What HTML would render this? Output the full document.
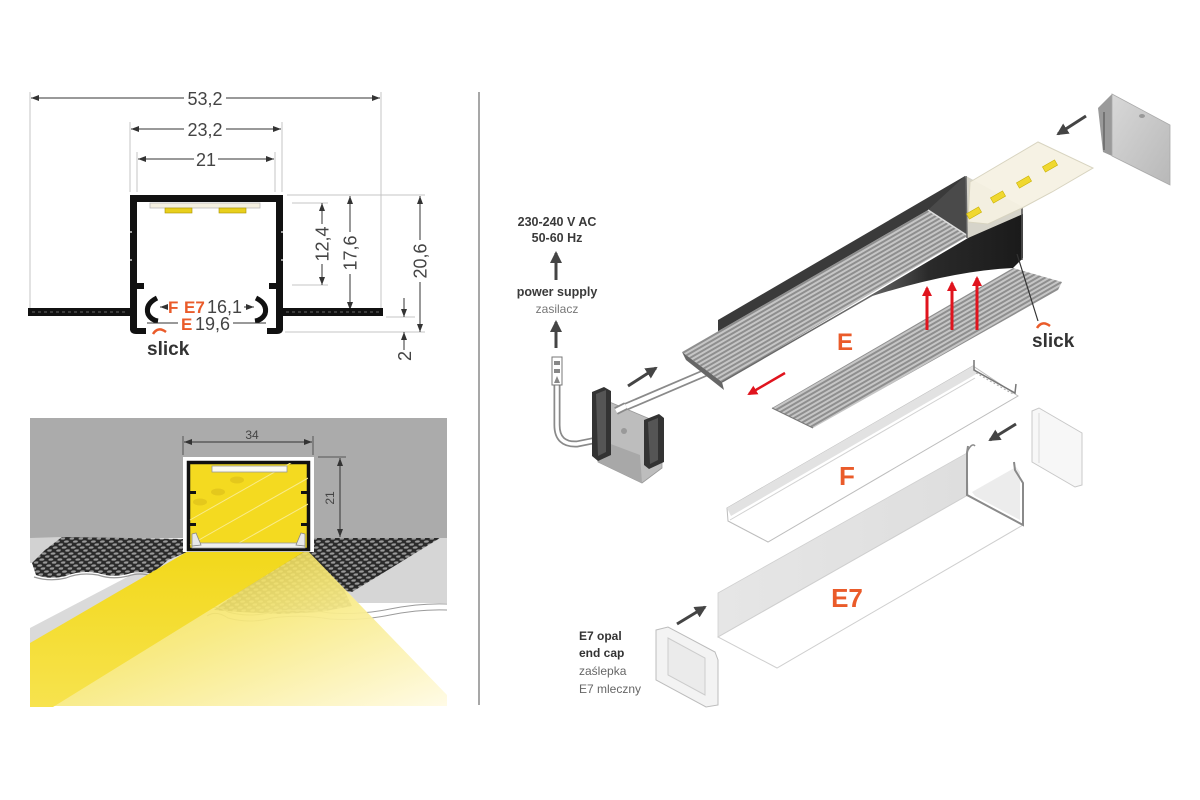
<!DOCTYPE html>
<html><head><meta charset="utf-8">
<style>
html,body{margin:0;padding:0;background:#fff;}
svg{display:block;}
text{font-family:"Liberation Sans",sans-serif;}
</style></head><body>
<svg width="1200" height="800" viewBox="0 0 1200 800" xmlns="http://www.w3.org/2000/svg">
<defs>
<marker id="ad" markerUnits="userSpaceOnUse" viewBox="0 0 8 6" refX="8" refY="3" markerWidth="8" markerHeight="6" orient="auto-start-reverse"><path d="M0,0L8,3L0,6z" fill="#333"/></marker>
<marker id="ag" markerUnits="userSpaceOnUse" viewBox="0 0 12 12" refX="10" refY="6" markerWidth="12" markerHeight="12" orient="auto"><path d="M0,0L12,6L0,12z" fill="#444"/></marker>
<marker id="ar" markerUnits="userSpaceOnUse" viewBox="0 0 10 10" refX="8" refY="5" markerWidth="10" markerHeight="10" orient="auto"><path d="M0,0L10,5L0,10z" fill="#e0141e"/></marker>
<pattern id="rib" width="6" height="4" patternUnits="userSpaceOnUse" patternTransform="rotate(-30)">
<rect width="6" height="4" fill="#8e8e8e"/><rect width="6" height="2" fill="#c6c6c6"/></pattern>
<pattern id="mesh" width="9" height="6" patternUnits="userSpaceOnUse" patternTransform="skewX(-20)">
<rect width="9" height="6" fill="#2a2a2a"/>
<ellipse cx="2.5" cy="1.5" rx="2.4" ry="1.2" fill="#9a9a9a"/>
<ellipse cx="7" cy="4.5" rx="2.4" ry="1.2" fill="#9a9a9a"/>
</pattern>
<linearGradient id="beamR" x1="0" y1="0" x2="1" y2="1">
<stop offset="0" stop-color="#efd42a" stop-opacity="0.75"/>
<stop offset="0.45" stop-color="#f7e877" stop-opacity="0.92"/>
<stop offset="1" stop-color="#fffbe6"/>
</linearGradient>
<linearGradient id="beamL" x1="0" y1="0" x2="0" y2="1">
<stop offset="0" stop-color="#f2d81a"/>
<stop offset="1" stop-color="#f7e34e"/>
</linearGradient>
<linearGradient id="wedge" x1="0" y1="0" x2="1" y2="0">
<stop offset="0" stop-color="#6a6a6a"/>
<stop offset="0.4" stop-color="#2a2a2a"/>
<stop offset="1" stop-color="#1a1a1a"/>
</linearGradient>
<linearGradient id="capg" x1="0" y1="0" x2="1" y2="1">
<stop offset="0" stop-color="#d8d8d8"/>
<stop offset="1" stop-color="#b8b8b8"/>
</linearGradient>
<linearGradient id="e7face" x1="0" y1="0" x2="1" y2="0">
<stop offset="0" stop-color="#e6e6e6"/>
<stop offset="1" stop-color="#dedede"/>
</linearGradient>
<clipPath id="inner"><rect x="189" y="463" width="119" height="85"/></clipPath>
</defs>
<rect width="1200" height="800" fill="#fff"/>

<!-- divider -->
<line x1="479" y1="92" x2="479" y2="705" stroke="#8a8a8a" stroke-width="1.5"/>

<!-- ================= TOP LEFT CROSS SECTION ================= -->
<g stroke="#c4c4c4" stroke-width="1">
<line x1="30" y1="92" x2="30" y2="310"/>
<line x1="381" y1="92" x2="381" y2="310"/>
<line x1="130" y1="122" x2="130" y2="192"/>
<line x1="282" y1="122" x2="282" y2="192"/>
<line x1="137" y1="152" x2="137" y2="192"/>
<line x1="275" y1="152" x2="275" y2="192"/>
<line x1="287" y1="195" x2="425" y2="195"/>
<line x1="292" y1="203" x2="328" y2="203"/>
<line x1="292" y1="285" x2="328" y2="285"/>
<line x1="285" y1="332" x2="425" y2="332"/>
<line x1="386" y1="317" x2="415" y2="317"/>
</g>
<g stroke="#333" stroke-width="1" marker-start="url(#ad)" marker-end="url(#ad)">
<line x1="31" y1="98" x2="380" y2="98"/>
<line x1="131" y1="129" x2="281" y2="129"/>
<line x1="138" y1="159" x2="274" y2="159"/>
<line x1="322" y1="203" x2="322" y2="285"/>
<line x1="350" y1="196" x2="350" y2="310"/>
<line x1="420" y1="196" x2="420" y2="332"/>
</g>
<g stroke="#333" stroke-width="1" marker-end="url(#ad)">
<line x1="404" y1="298" x2="404" y2="317"/>
<line x1="404" y1="350" x2="404" y2="332"/>
</g>
<g fill="#fff">
<rect x="184" y="88" width="42" height="20"/>
<rect x="184" y="119" width="42" height="20"/>
<rect x="194" y="149" width="24" height="20"/>
<rect x="314" y="224" width="16" height="40"/>
<rect x="342" y="232" width="16" height="42"/>
<rect x="412" y="240" width="16" height="42"/>
</g>
<g font-size="18" fill="#444" text-anchor="middle">
<text x="205" y="105">53,2</text>
<text x="205" y="136">23,2</text>
<text x="206" y="166">21</text>
<text transform="translate(328.5,244) rotate(-90)">12,4</text>
<text transform="translate(356.5,253) rotate(-90)">17,6</text>
<text transform="translate(426.5,261) rotate(-90)">20,6</text>
<text transform="translate(411,356) rotate(-90)">2</text>
</g>

<!-- profile -->
<g fill="#111">
<rect x="130" y="195" width="153" height="7"/>
<rect x="130" y="195" width="7" height="130"/>
<rect x="276" y="195" width="7" height="130"/>
<path d="M130,320 L130,330 Q131,334 136,334 L146,334 L146,328 L137,328 L137,320 Z"/>
<path d="M283,320 L283,330 Q282,334 277,334 L267,334 L267,328 L276,328 L276,320 Z"/>
<rect x="137" y="283" width="7" height="6"/>
<rect x="269" y="283" width="7" height="6"/>
<rect x="28" y="308" width="104" height="8"/>
<rect x="281" y="308" width="102" height="8"/>
</g>
<g stroke="#fff" stroke-width="1.2">
<line x1="130" y1="232" x2="132" y2="232"/><line x1="130" y1="260" x2="132" y2="260"/>
<line x1="281" y1="232" x2="283" y2="232"/><line x1="281" y1="260" x2="283" y2="260"/>
</g>
<g stroke="#666" stroke-width="1" stroke-dasharray="3 3">
<line x1="32" y1="312" x2="128" y2="312"/>
<line x1="286" y1="312" x2="380" y2="312"/>
</g>
<path d="M157,298 Q145,304 148,314 Q151,320 158,321" stroke="#111" stroke-width="5" fill="none"/>
<path d="M256,298 Q268,304 265,314 Q262,320 255,321" stroke="#111" stroke-width="5" fill="none"/>
<!-- LED strip -->
<rect x="150" y="203" width="110" height="5" fill="#f4f0e0" stroke="#bbb" stroke-width="0.8"/>
<rect x="165" y="208" width="27" height="5" fill="#e8cf1c" stroke="#a89200" stroke-width="0.6"/>
<rect x="219" y="208" width="27" height="5" fill="#e8cf1c" stroke="#a89200" stroke-width="0.6"/>

<!-- labels under profile -->
<g stroke="#333" stroke-width="1">
<line x1="167" y1="307" x2="160" y2="307" marker-end="url(#ad)"/>
<line x1="244" y1="307" x2="254" y2="307" marker-end="url(#ad)"/>
<line x1="178" y1="323" x2="147" y2="323"/>
<line x1="233" y1="323" x2="266" y2="323"/>
</g>
<g font-size="17" font-weight="bold" fill="#ea5b2a">
<text x="168" y="313">F</text>
<text x="184" y="313">E7</text>
<text x="181" y="330">E</text>
</g>
<g font-size="18" fill="#444">
<text x="207" y="313">16,1</text>
<text x="195" y="330">19,6</text>
</g>
<path d="M153,334 Q158,326 166,332" stroke="#ea5b2a" stroke-width="2.5" fill="none"/>
<text x="147" y="355" font-size="19" font-weight="bold" fill="#333">slick</text>

<!-- ================= BOTTOM LEFT ILLUSTRATION ================= -->
<rect x="30" y="418" width="417" height="120" fill="#ababab"/>
<!-- left slab -->
<polygon points="30,538 187,538 190,550 30,645" fill="#fff"/>
<polygon points="30,628 175,552 190,550 30,645" fill="#dadada"/>
<polygon points="30,538 62,537 45,552 32,563 30,563" fill="#d2d2d2"/>
<path d="M62,537 L187,539 L187,552 L168,560 L152,574 Q140,570 128,574 Q112,578 98,573 Q80,570 66,576 Q50,580 36,575 L32,563 L45,550 Z" fill="url(#mesh)"/>
<path d="M152,576 Q140,572 128,576 Q112,580 98,575 Q80,572 66,578 Q50,582 34,577" stroke="#999" stroke-width="1.2" fill="none"/>
<!-- right slab -->
<polygon points="310,538 447,538 447,603 358,603 310,552" fill="#d6d6d6"/>
<path d="M312,538 L440,538 L352,592 L340,590 L312,552 Z" fill="url(#mesh)"/>
<path d="M292,552 L318,552 L345,592 L352,606 L320,612 L280,614 L240,612 L214,610 Z" fill="url(#mesh)"/>
<path d="M207,610 Q216,604 228,612 Q250,618 272,612 Q300,608 330,613 Q360,615 390,609 Q420,603 447,604" stroke="#9a9a9a" stroke-width="1" fill="none"/>
<path d="M207,616 Q216,610 228,618 Q250,624 272,618 Q300,614 330,619 Q360,621 390,615 Q420,609 447,610" stroke="#9a9a9a" stroke-width="1" fill="none"/>
<!-- beam -->
<polygon points="307,550 447,695 447,706 53,706" fill="url(#beamR)"/>
<polygon points="190,550 307,550 53,707 30,707 30,643" fill="url(#beamL)"/>
<!-- profile -->
<rect x="183" y="457" width="131" height="95" fill="#fff"/>
<rect x="188.5" y="462.5" width="120" height="87" fill="#f4da20" stroke="#111" stroke-width="3.5"/>
<g clip-path="url(#inner)" stroke="#f9eb8a" stroke-width="1">
<line x1="190" y1="520" x2="310" y2="452"/>
<line x1="190" y1="545" x2="310" y2="477"/>
<line x1="230" y1="548" x2="310" y2="503"/>
</g>
<ellipse cx="237" cy="480" rx="7" ry="3.5" fill="#e4c81c"/>
<ellipse cx="218" cy="492" rx="7" ry="3.5" fill="#e4c81c"/>
<ellipse cx="200" cy="502" rx="7" ry="3.5" fill="#e4c81c"/>
<rect x="212" y="466" width="75" height="6" fill="#fbfaf0" stroke="#999" stroke-width="0.8"/>
<g fill="#111">
<rect x="190" y="491" width="6" height="3"/><rect x="190" y="523" width="6" height="3"/>
<rect x="301" y="491" width="6" height="3"/><rect x="301" y="523" width="6" height="3"/>
</g>
<rect x="192" y="543" width="113" height="5" fill="#eeeeee" stroke="#999" stroke-width="0.8"/>
<polygon points="192,534 196,533 201,545 192,546" fill="#e8e8e8" stroke="#888" stroke-width="0.8"/>
<polygon points="305,534 301,533 296,545 305,546" fill="#e8e8e8" stroke="#888" stroke-width="0.8"/>
<!-- dims -->
<g stroke="#555" stroke-width="1">
<line x1="183" y1="436" x2="183" y2="455"/>
<line x1="313" y1="436" x2="313" y2="455"/>
<line x1="318" y1="457" x2="346" y2="457"/>
</g>
<g stroke="#333" stroke-width="1" marker-start="url(#ad)" marker-end="url(#ad)">
<line x1="184" y1="442" x2="312" y2="442"/>
<line x1="340" y1="458" x2="340" y2="537"/>
</g>
<g font-size="12" fill="#444" text-anchor="middle">
<text x="252" y="439">34</text>
<text transform="translate(334,498) rotate(-90)">21</text>
</g>

<!-- ================= RIGHT EXPLODED VIEW ================= -->
<!-- power texts -->
<g font-size="12.5" font-weight="bold" fill="#3a3a3a" text-anchor="middle">
<text x="557" y="226">230-240 V AC</text>
<text x="557" y="242">50-60 Hz</text>
<text x="557" y="296">power supply</text>
</g>
<text x="557" y="313" font-size="12" fill="#777" text-anchor="middle">zasilacz</text>
<g stroke="#444" stroke-width="3">
<line x1="556" y1="280" x2="556" y2="253" marker-end="url(#ag)"/>
<line x1="556" y1="348" x2="556" y2="322" marker-end="url(#ag)"/>
<line x1="628" y1="386" x2="656" y2="368" marker-end="url(#ag)"/>
<line x1="1086" y1="116" x2="1058" y2="134" marker-end="url(#ag)"/>
<line x1="1016" y1="424" x2="990" y2="440" marker-end="url(#ag)"/>
<line x1="677" y1="624" x2="705" y2="607" marker-end="url(#ag)"/>
</g>
<!-- cable and connector -->
<path d="M557,385 L557,425 Q557,445 577,444 L597,440" stroke="#8a8a8a" stroke-width="7" fill="none"/>
<path d="M557,385 L557,425 Q557,445 577,444 L597,440" stroke="#fff" stroke-width="3.5" fill="none"/>
<rect x="552" y="357" width="10" height="28" fill="#fff" stroke="#777" stroke-width="1"/>
<rect x="554" y="361" width="6" height="4" fill="#888"/>
<rect x="554" y="369" width="6" height="4" fill="#888"/>
<path d="M554,383 L557,376 L560,383 Z" fill="#888"/>
<!-- rod -->
<line x1="616" y1="411" x2="712" y2="370" stroke="#8a8a8a" stroke-width="8"/>
<line x1="616" y1="411" x2="712" y2="370" stroke="#fff" stroke-width="4.5"/>
<!-- feed piece -->
<polygon points="600,398 662,424 662,468 642,483 598,462" fill="#bdbdbd" stroke="#999" stroke-width="0.8"/>
<polygon points="600,440 640,455 642,483 598,462" fill="#a8a8a8"/>
<polygon points="592,392 604,387 611,391 611,455 598,461 592,456" fill="#333"/>
<polygon points="596,394 606,390 606,452 598,456" fill="#555"/>
<polygon points="644,420 659,414 664,418 664,462 649,469 644,465" fill="#333"/>
<polygon points="648,422 658,418 658,460 650,464" fill="#555"/>
<circle cx="624" cy="431" r="3" fill="#999"/>
<line x1="616" y1="411" x2="626" y2="406" stroke="#8a8a8a" stroke-width="8"/>
<line x1="616" y1="411" x2="626" y2="406" stroke="#fff" stroke-width="4.5"/>

<!-- E profile -->
<polygon points="718,320 965,176 968,190 718,336" fill="#3a3a3a"/>
<polygon points="928,210 965,176 968,236" fill="#4a4a4a"/>
<polygon points="682,352 928,210 968,236 722,382" fill="url(#rib)"/>
<line x1="722" y1="382" x2="968" y2="240" stroke="#6a6a6a" stroke-width="1.5"/>
<line x1="928" y1="210" x2="968" y2="236" stroke="#ddd" stroke-width="1.5"/>
<polygon points="682,352 722,382 724,390 686,360" fill="#666"/>
<!-- end face diffuser -->
<polygon points="966,176 1023,207 1023,226 967,238" fill="#d6d4ca"/>
<!-- dark wedge -->
<path d="M866,298 L968,238 L1023,214 L1023,258 L1013,268 Q950,271 866,298 Z" fill="url(#wedge)"/>
<line x1="966" y1="176" x2="967" y2="238" stroke="#666" stroke-width="1.5"/>
<line x1="1022" y1="208" x2="1022" y2="260" stroke="#555" stroke-width="1.5"/>
<!-- LED strip -->
<polygon points="970,182 1038,142 1093,168 1052,192 1022,208 988,224 968,222" fill="#f5f1e2" fill-opacity="0.92" stroke="#d8d4c0" stroke-width="1"/>
<g fill="#f0d830" stroke="#c8b000" stroke-width="0.6">
<rect x="-7" y="-3" width="14" height="6" transform="translate(1050,166) rotate(-30)"/>
<rect x="-7" y="-3" width="14" height="6" transform="translate(1024,182) rotate(-30)"/>
<rect x="-7" y="-3" width="14" height="6" transform="translate(998,197) rotate(-30)"/>
<rect x="-7" y="-3" width="14" height="6" transform="translate(974,213) rotate(-30)"/>
</g>
<!-- lower flange -->
<polygon points="772,408 1013,268 1062,282 1058,290 813,428" fill="url(#rib)"/>
<line x1="772" y1="408" x2="813" y2="428" stroke="#777" stroke-width="1"/>
<!-- slick leader -->
<line x1="1017" y1="254" x2="1038" y2="321" stroke="#333" stroke-width="1.2"/>
<path d="M1037,328 Q1042,320 1050,326" stroke="#ea5b2a" stroke-width="2.5" fill="none"/>
<text x="1032" y="347" font-size="19" font-weight="bold" fill="#333">slick</text>
<!-- red arrows -->
<g stroke="#e0141e" stroke-width="3">
<line x1="927" y1="330" x2="927" y2="288" marker-end="url(#ar)"/>
<line x1="952" y1="330" x2="952" y2="283" marker-end="url(#ar)"/>
<line x1="977" y1="330" x2="977" y2="278" marker-end="url(#ar)"/>
<line x1="785" y1="373" x2="749" y2="394" stroke-width="2.5" marker-end="url(#ar)"/>
</g>
<text x="845" y="350" font-size="24" font-weight="bold" fill="#ea5b2a" text-anchor="middle">E</text>

<!-- top cap -->
<polygon points="1098,108 1112,94 1112,156 1103,152" fill="#9a9a9a"/>
<polygon points="1112,94 1170,125 1170,185 1112,156" fill="url(#capg)" stroke="#aaa" stroke-width="0.8"/>
<line x1="1104" y1="112" x2="1104" y2="150" stroke="#666" stroke-width="1.5"/>
<ellipse cx="1142" cy="116" rx="3" ry="2" fill="#999"/>

<!-- F piece -->
<polygon points="727,508 973,366 1018,396 768,542 728,521" fill="#fff" stroke="#bdbdbd" stroke-width="1"/>
<polygon points="727,508 973,366 978,373 731,516" fill="#e2e2e2"/>
<line x1="730" y1="520" x2="975" y2="378" stroke="#d2d2d2" stroke-width="1"/>
<polyline points="974,360 974,370 1015,393 1016,384" stroke="#777" stroke-width="1.5" fill="none"/>
<line x1="976" y1="373" x2="1013" y2="394" stroke="#aaa" stroke-width="1" stroke-dasharray="2 2"/>
<text x="847" y="485" font-size="26" font-weight="bold" fill="#ea5b2a" text-anchor="middle">F</text>

<!-- F end cap (right) -->
<polygon points="1032,411 1039,408 1082,433 1082,485 1075,487 1032,462" fill="#f7f7f7" stroke="#c8c8c8" stroke-width="1"/>
<line x1="1039" y1="413" x2="1039" y2="463" stroke="#d8d8d8" stroke-width="1"/>

<!-- E7 piece -->
<polygon points="718,593 967,453 968,495 718,637" fill="url(#e7face)" stroke="#d0d0d0" stroke-width="0.8"/>
<polygon points="718,637 968,495 1023,525 777,668" fill="#fff" stroke="#cfcfcf" stroke-width="1"/>
<polygon points="972,492 1016,467 1020,472 1020,520 975,496" fill="#ececec"/>
<polyline points="968,446 967,453 967,495 1023,525 1023,483 1015,470 1014,462" stroke="#8a8a8a" stroke-width="2" fill="none"/>
<path d="M967,452 Q972,442 975,446" stroke="#8a8a8a" stroke-width="1.5" fill="none"/>
<text x="847" y="607" font-size="26" font-weight="bold" fill="#ea5b2a" text-anchor="middle">E7</text>

<!-- E7 end cap -->
<polygon points="656,630 668,627 715,652 718,660 718,705 706,707 656,680" fill="#f3f3f3" stroke="#bcbcbc" stroke-width="1"/>
<polygon points="668,638 705,658 705,695 668,675" fill="#ebebeb" stroke="#cccccc" stroke-width="1"/>
<g font-size="12">
<text x="579" y="640" font-weight="bold" fill="#333">E7 opal</text>
<text x="579" y="657" font-weight="bold" fill="#333">end cap</text>
<text x="579" y="675" fill="#666">zaślepka</text>
<text x="579" y="693" fill="#666">E7 mleczny</text>
</g>
</svg>
</body></html>
